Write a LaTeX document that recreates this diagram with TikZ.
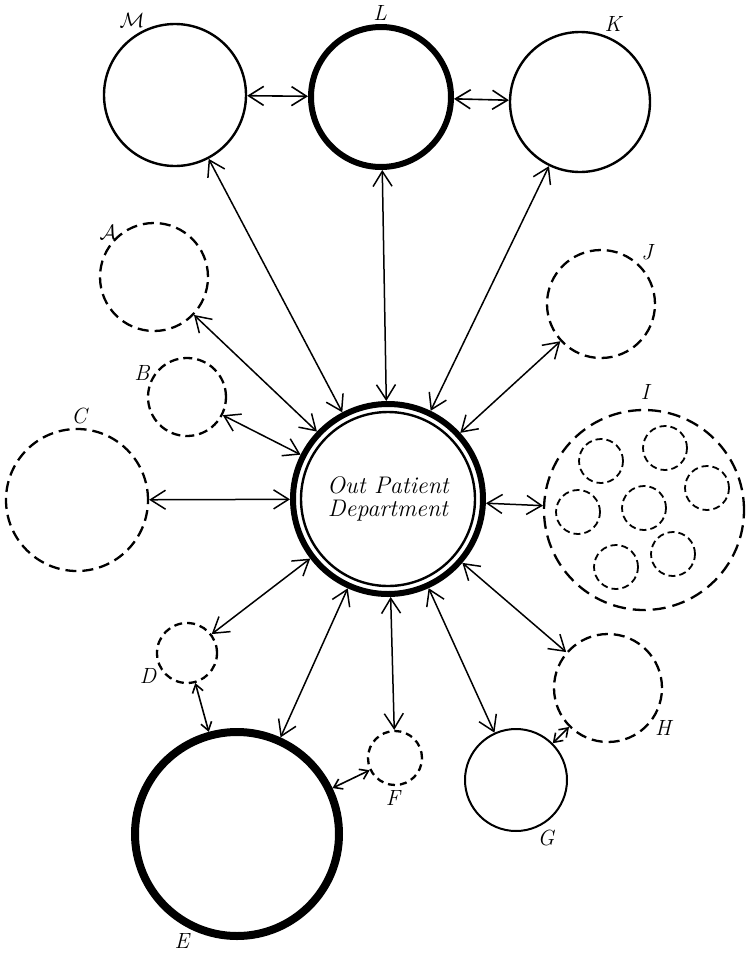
\documentclass[tikz,border=0pt]{standalone}
\usepackage{amsmath}
\usepackage{amssymb}
\usepackage{fontspec}
\usepackage{tikz}
\usetikzlibrary{arrows.meta}
\usetikzlibrary{positioning}

\begin{document}
\begin{tikzpicture}[x=1pt,y=-1pt,>={Straight Barb[length=15pt,width=19pt]},
    main node/.style={circle,draw,line width=2.4pt,inner sep=0pt},
    heavy node/.style={circle,draw,line width=6pt,inner sep=0pt},
    dash node/.style={circle,draw,line width=2.3pt,dash pattern=on 11pt off 6pt,inner sep=0pt},
    small node/.style={circle,draw,line width=1.8pt,dash pattern=on 7pt off 4pt,inner sep=0pt,minimum size=44pt},
    letter/.style={font=\fontsize{22}{24}\selectfont\itshape,inner sep=0pt},
    short/.style={<->,line width=1.6pt,>={Straight Barb[length=8pt,width=11pt]}}]
   \useasboundingbox (0,0) rectangle (750,954);
   \begin{scope}
      % centre
      \node[heavy node,minimum size=190pt] (opd) at (388,499) {};
      \node[circle,draw,line width=2.4pt,minimum size=174pt,align=center,
        font=\fontsize{24}{23}\selectfont\itshape] (opdtext) at (388,499) {Out Patient\\Department};
      % top row
      \node[main node,minimum size=142pt] (m) at (175,95) {};
      \node[heavy node,minimum size=140pt] (l) at (381,97) {};
      \node[main node,minimum size=140pt] (k) at (580,102) {};
      % left side
      \node[dash node,minimum size=108pt] (a) at (154,277) {};
      \node[dash node,minimum size=78pt,dash pattern=on 9pt off 5pt] (b) at (187,397) {};
      \node[dash node,minimum size=142pt] (c) at (77,500) {};
      \node[dash node,minimum size=60pt,dash pattern=on 8pt off 5pt] (d) at (187,653) {};
      \node[circle,draw,line width=8pt,inner sep=0pt,minimum size=204pt] (e) at (237,834) {};
      % right side
      \node[dash node,minimum size=108pt] (j) at (601,304) {};
      \node[dash node,minimum size=200pt,dash pattern=on 13pt off 7pt] (i) at (644,510) {};
      \node[dash node,minimum size=108pt] (h) at (608,688) {};
      \node[main node,minimum size=102pt,line width=2pt] (g) at (516,780) {};
      \node[dash node,minimum size=54pt,dash pattern=on 7pt off 5pt] (f) at (395,758) {};
      % circles inside I
      \node[small node] (i1) at (601,461) {};
      \node[small node] (i2) at (665,448) {};
      \node[small node] (i3) at (707,488) {};
      \node[small node] (i4) at (578,512) {};
      \node[small node] (i5) at (644,508) {};
      \node[small node] (i6) at (673,554) {};
      \node[small node] (i7) at (616,567) {};
      % letters
      \node[letter] (mlab) at (132,20) {$\mathcal{M}$};
      \node[letter] (llab) at (380,13) {L};
      \node[letter] (klab) at (613,24) {K};
      \node[letter] (alab) at (108,232) {$\mathcal{A}$};
      \node[letter] (blab) at (142,373) {B};
      \node[letter] (clab) at (79,416) {C};
      \node[letter] (dlab) at (148,676) {D};
      \node[letter] (elab) at (182,941) {E};
      \node[letter] (flab) at (393,798) {F};
      \node[letter] (glab) at (546,838) {G};
      \node[letter] (hlab) at (663,728) {H};
      \node[letter] (ilab) at (645,392) {I};
      \node[letter] (jlab) at (647,252) {J};
       \path[<->,line width=1.6pt] (m) edge (l);
       \path[<->,line width=1.6pt] (l) edge (k);
       \foreach \n in {m,l,k,a,b,c,d,e,f,g,h,i,j}
         \path[<->,line width=1.5pt] (opd) edge (\n);
       \path[short] (d) edge (e);
       \path[short] (e) edge (f);
       \path[short] (g) edge (h);
    \end{scope}
  \end{tikzpicture}
\end{document}
